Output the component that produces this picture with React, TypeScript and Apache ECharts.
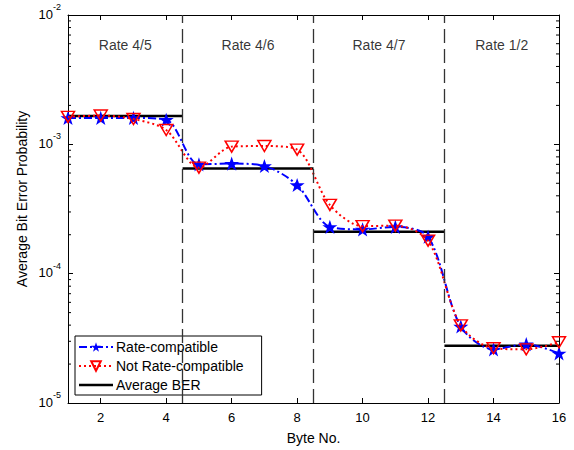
import React, { useEffect, useRef } from "react";
import * as echarts from "echarts";

const bytes = [1, 2, 3, 4, 5, 6, 7, 8, 9, 10, 11, 12, 13, 14, 15, 16];
const rateCompatible = [1.6e-3, 1.6e-3, 1.6e-3, 1.55e-3, 7.0e-4, 7.1e-4, 6.8e-4, 4.85e-4, 2.3e-4, 2.2e-4, 2.3e-4, 1.93e-4, 3.9e-5, 2.6e-5, 2.85e-5, 2.42e-5];
const notRateCompatible = [1.63e-3, 1.67e-3, 1.57e-3, 1.29e-3, 6.6e-4, 9.6e-4, 9.7e-4, 9.1e-4, 3.4e-4, 2.33e-4, 2.35e-4, 1.8e-4, 3.98e-5, 2.65e-5, 2.6e-5, 2.95e-5];
const rateNames = ["Rate 4/5", "Rate 4/6", "Rate 4/7", "Rate 1/2"];
const rateStart = [1, 4.5, 8.5, 12.5];
const rateEnd = [4.5, 8.5, 12.5, 16];
const averageBER = [1.655e-3, 6.5e-4, 2.11e-4, 2.77e-5];
const xTicks = [2, 4, 6, 8, 10, 12, 14, 16];
const decades = [1e-5, 1e-4, 1e-3];
const minorMantissas = [2, 3, 4, 5, 6, 7, 8, 9];

const FONT = "'Liberation Sans', Arial, Helvetica, sans-serif";

export default function App() {
  const ref = useRef<HTMLDivElement>(null);
  useEffect(() => {
    if (!ref.current) return;
    const chart = echarts.init(ref.current, undefined, { renderer: "svg" });
    const star =
      "path://M12,0 L14.9,8.6 L24,8.6 L16.7,14 L19.4,22.6 L12,17.3 L4.6,22.6 L7.3,14 L0,8.6 L9.1,8.6 Z";
    const lineIcon =
      "path://M0,0 L0.01,0 L0,0.01 Z M0,4.7 L34,4.7 L34,7.3 L0,7.3 Z M34,12 L33.99,12 L34,11.99 Z";
    const minorVals: number[] = [];
    decades.forEach((d) => minorMantissas.forEach((m) => minorVals.push(m * d)));

    const yLabel = (v: number) => {
      const e = Math.round(Math.log10(v));
      return `{b|10}{s|${e}}`;
    };
    const richY = {
      b: { fontSize: 13, lineHeight: 13, fontFamily: FONT, color: "#000", verticalAlign: "bottom", padding: [0, 0, 1, 0] },
      s: { fontSize: 9, lineHeight: 9, fontFamily: FONT, color: "#000", verticalAlign: "bottom", padding: [0, 0, 10, 0] },
    };

    const avgSeries = rateStart.map((s, i) => ({
      name: "Average BER",
      type: "line",
      symbol: "none",
      silent: true,
      data: [
        [s, averageBER[i]],
        [rateEnd[i], averageBER[i]],
      ],
      lineStyle: { color: "#000", width: 2.5, type: "solid" },
      itemStyle: { color: "#000" },
      z: 2,
      markLine:
        i === 0
          ? {
              silent: true,
              symbol: "none",
              label: { show: false },
              lineStyle: { color: "#333", width: 1.3, type: [14, 6] },
              data: rateStart.slice(1).map((x) => ({ xAxis: x })),
            }
          : undefined,
    }));

    const option: any = {
      animation: false,
      backgroundColor: "#fff",
      textStyle: { fontFamily: FONT },
      grid: { left: 68, right: 15, top: 15, bottom: 47, containLabel: false },
      legend: {
        data: [
          { name: "Rate-compatible" },
          { name: "Not Rate-compatible" },
          { name: "Average BER", icon: lineIcon, itemStyle: { color: "#000", borderWidth: 0 } },
        ],
        orient: "vertical",
        left: 75,
        top: 336,
        itemWidth: 34,
        itemHeight: 12,
        itemGap: 5,
        padding: [4, 18, 3, 3],
        borderColor: "#000",
        borderWidth: 1,
        backgroundColor: "#fff",
        textStyle: { fontSize: 14, color: "#000", fontFamily: FONT, padding: [0, 0, 0, -2] },
      },
      xAxis: [
        {
          type: "value",
          min: 1,
          max: 16,
          name: "Byte No.",
          nameLocation: "middle",
          nameGap: 28,
          nameTextStyle: { fontSize: 14, color: "#000", fontFamily: FONT },
          axisLine: { show: true, lineStyle: { color: "#000", width: 1 } },
          axisTick: { inside: true, length: 5, customValues: xTicks, lineStyle: { color: "#000" } },
          axisLabel: { customValues: xTicks, fontSize: 13, color: "#000", margin: 8, fontFamily: FONT },
          splitLine: { show: false },
        },
        {
          type: "value",
          min: 1,
          max: 16,
          position: "top",
          axisLine: { show: true, lineStyle: { color: "#000", width: 1 } },
          axisTick: { inside: true, length: 5, customValues: xTicks, lineStyle: { color: "#000" } },
          axisLabel: { show: false },
          splitLine: { show: false },
        },
      ],
      yAxis: [
        {
          type: "log",
          logBase: 10,
          min: 1e-5,
          max: 1e-2,
          axisLine: { show: true, lineStyle: { color: "#000", width: 1 } },
          axisTick: { inside: true, length: 5, lineStyle: { color: "#000" } },
          axisLabel: { formatter: yLabel, rich: richY, margin: 7 },
          splitLine: { show: false },
        },
        {
          type: "log",
          logBase: 10,
          min: 1e-5,
          max: 1e-2,
          position: "right",
          axisLine: { show: true, lineStyle: { color: "#000", width: 1 } },
          axisTick: { inside: true, length: 5, lineStyle: { color: "#000" } },
          axisLabel: { show: false },
          splitLine: { show: false },
        },
      ],
      graphic: [
        {
          type: "text",
          x: 22,
          y: 199,
          rotation: Math.PI / 2,
          style: {
            text: "Average Bit Error Probability",
            fontSize: 14,
            fontFamily: FONT,
            fill: "#000",
            textAlign: "center",
            textVerticalAlign: "middle",
          },
        },
      ],
      series: [
        {
          name: "minorTicks",
          type: "custom",
          silent: true,
          data: minorVals.map((v) => [1, v]),
          renderItem: (params: any, api: any) => {
            const y = api.coord([1, api.value(1)])[1];
            const cs = params.coordSys;
            const st = { stroke: "#000", lineWidth: 1 };
            return {
              type: "group",
              children: [
                { type: "line", shape: { x1: cs.x, y1: y, x2: cs.x + 3, y2: y }, style: st },
                { type: "line", shape: { x1: cs.x + cs.width, y1: y, x2: cs.x + cs.width - 3, y2: y }, style: st },
              ],
            };
          },
        },
        ...avgSeries,
        {
          name: "rateLabels",
          type: "scatter",
          symbolSize: 0,
          silent: true,
          data: rateNames.map((n, i) => ({ name: n, value: [(rateStart[i] + rateEnd[i]) / 2, 5.9e-3] })),
          label: {
            show: true,
            position: "inside",
            formatter: (p: any) => p.name,
            fontSize: 14,
            color: "#000",
            fontFamily: FONT,
          },
        },
        {
          name: "Rate-compatible",
          type: "line",
          smooth: 0.3,
          data: bytes.map((x, i) => [x, rateCompatible[i]]),
          symbol: star,
          symbolSize: 15,
          symbolKeepAspect: true,
          lineStyle: { color: "#0000ff", width: 2, type: [8, 3, 2, 3] },
          itemStyle: { color: "#0000ff" },
          z: 3,
        },
        {
          name: "Not Rate-compatible",
          type: "line",
          smooth: 0.3,
          data: bytes.map((x, i) => [x, notRateCompatible[i]]),
          symbol: "triangle",
          symbolRotate: 180,
          symbolSize: [13, 11],
          lineStyle: { color: "#ff0000", width: 2, type: [2, 3] },
          itemStyle: { color: "rgba(255,255,255,0)", borderColor: "#ff0000", borderWidth: 1.5 },
          z: 4,
        },
      ],
    };
    chart.setOption(option);
    return () => chart.dispose();
  }, []);
  return (
    <div
      ref={ref}
      style={{ position: "fixed", left: 0, top: 0, width: 574, height: 450, background: "#fff" }}
    />
  );
}
